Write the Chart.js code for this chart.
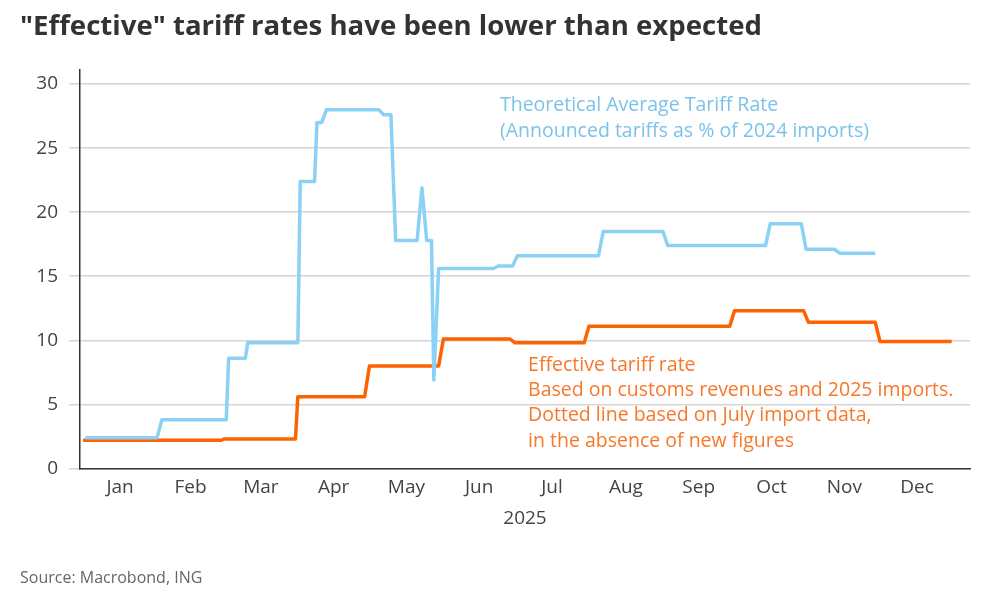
<!DOCTYPE html>
<html>
<head>
<meta charset="utf-8">
<script src="https://cdn.jsdelivr.net/npm/chart.js@4.4.1/dist/chart.umd.min.js"></script>
<style>
  html, body { margin: 0; padding: 0; background: #fff; }
  body { width: 1006px; height: 598px; position: relative; overflow: hidden; font-family: "Open Sans", "Noto Sans", sans-serif; }
  #title { position: absolute; left: 20px; top: 5px; font-size: 27.6px; font-weight: 700; color: #333; white-space: nowrap; }
  #source { position: absolute; left: 20px; top: 566px; font-size: 16px; color: #666; }
  #wrap { position: absolute; left: 0; top: 0; width: 1006px; height: 598px; }
</style>
</head>
<body>
<div id="wrap"><canvas id="tariffChart" width="1006" height="598"></canvas></div>
<div id="title">"Effective" tariff rates have been lower than expected</div>
<div id="source">Source: Macrobond, ING</div>
<script>
// theoretical average tariff rate (announced tariffs as % of 2024 imports)
var theoDates = ['2025-01-02', '2025-02-01', '2025-02-03', '2025-03-02', '2025-03-03', '2025-03-10', '2025-03-11',
  '2025-04-01', '2025-04-02', '2025-04-08', '2025-04-09', '2025-04-11', '2025-04-13', '2025-05-05', '2025-05-07',
  '2025-05-10', '2025-05-12', '2025-05-21', '2025-05-23', '2025-05-25', '2025-05-27', '2025-05-28', '2025-05-30',
  '2025-06-22', '2025-06-24', '2025-06-30', '2025-07-02', '2025-08-05', '2025-08-07', '2025-09-01', '2025-09-03',
  '2025-10-14', '2025-10-16', '2025-10-29', '2025-10-31', '2025-11-12', '2025-11-14', '2025-11-29'];
var theoValues = [2.4, 2.4, 3.8, 3.8, 8.6, 8.6, 9.8,
  9.8, 22.4, 22.4, 27.0, 27.0, 28.0, 28.0, 27.6,
  27.6, 17.8, 17.8, 21.9, 17.8, 17.8, 6.9, 15.6,
  15.6, 15.8, 15.8, 16.6, 16.6, 18.5, 18.5, 17.4,
  17.4, 19.1, 19.1, 17.1, 17.1, 16.8, 16.8];

// effective tariff rate (customs revenues / 2025 imports)
var effDates = ['2025-01-01', '2025-02-28', '2025-03-01', '2025-03-31', '2025-04-01', '2025-04-29', '2025-05-01',
  '2025-05-30', '2025-06-01', '2025-06-29', '2025-07-01', '2025-07-30', '2025-08-01', '2025-09-29', '2025-10-01',
  '2025-10-30', '2025-11-01', '2025-11-29', '2025-12-01', '2025-12-31'];
var effValues = [2.2, 2.2, 2.3, 2.3, 5.6, 5.6, 8.0,
  8.0, 10.1, 10.1, 9.8, 9.8, 11.1, 11.1, 12.3,
  12.3, 11.4, 11.4, 9.9, 9.9];

var monthLabels = ['Jan', 'Feb', 'Mar', 'Apr', 'May', 'Jun', 'Jul', 'Aug', 'Sep', 'Oct', 'Nov', 'Dec'];
var yTicks = [0, 5, 10, 15, 20, 25, 30];

var BLUE = '#8bd1f6';
var ORANGE = '#ff6200';
var FONT = '"Open Sans", "Noto Sans", sans-serif';

function dayOfYear(s) {
  var p = s.split('-');
  return (Date.UTC(+p[0], +p[1] - 1, +p[2]) - Date.UTC(2025, 0, 1)) / 86400000;
}
function toPoints(dates, values) {
  return dates.map(function(d, i) { return { x: dayOfYear(d), y: values[i] }; });
}
// middle of each month, where the month labels sit
var monthMids = monthLabels.map(function(m, i) {
  var start = (Date.UTC(2025, i, 1) - Date.UTC(2025, 0, 1)) / 86400000;
  var end = (Date.UTC(2025, i + 1, 1) - Date.UTC(2025, 0, 1)) / 86400000;
  return (start + end) / 2;
});

var notes = {
  id: 'notes',
  afterDatasetsDraw: function(chart) {
    var c = chart.ctx, x = chart.scales.x, y = chart.scales.y;
    c.save();
    c.font = '19.5px ' + FONT;
    c.textBaseline = 'middle';
    c.textAlign = 'left';
    c.fillStyle = '#7bc2ea';
    var bx = x.getPixelForValue(174.7);
    c.fillText('Theoretical Average Tariff Rate', bx, y.getPixelForValue(28.35));
    c.fillText('(Announced tariffs as % of 2024 imports)', bx, y.getPixelForValue(26.3));
    c.fillStyle = '#f8772a';
    var ox = x.getPixelForValue(186.5);
    var lines = ['Effective tariff rate', 'Based on customs revenues and 2025 imports.',
      'Dotted line based on July import data,', 'in the absence of new figures'];
    var ys = [8.0, 6.1, 4.1, 2.1];
    lines.forEach(function(t, i) { c.fillText(t, ox, y.getPixelForValue(ys[i])); });
    c.restore();
  }
};

var ctx = document.getElementById('tariffChart').getContext('2d');
new Chart(ctx, {
  type: 'line',
  data: {
    datasets: [{
      label: 'Theoretical Average Tariff Rate',
      data: toPoints(theoDates, theoValues),
      borderColor: BLUE,
      borderWidth: 3.5,
      pointRadius: 0,
      tension: 0,
      borderJoinStyle: 'round'
    }, {
      label: 'Effective tariff rate',
      data: toPoints(effDates, effValues),
      borderColor: ORANGE,
      borderWidth: 3.5,
      pointRadius: 0,
      tension: 0,
      borderJoinStyle: 'round'
    }]
  },
  options: {
    responsive: false,
    animation: false,
    layout: { padding: { top: 70, right: 36, bottom: 68, left: 1 } },
    plugins: {
      legend: { display: false },
      tooltip: { enabled: false }
    },
    scales: {
      x: {
        type: 'linear',
        min: -1.3,
        max: 371.7,
        afterBuildTicks: function(scale) {
          scale.ticks = monthMids.map(function(v) { return { value: v }; });
        },
        ticks: {
          autoSkip: false,
          maxRotation: 0,
          padding: 8,
          color: '#444',
          font: { family: FONT, size: 19 },
          callback: function(v, i) { return monthLabels[i]; }
        },
        grid: { display: false, drawTicks: false },
        border: { display: true, color: '#333', width: 1.5 },
        title: {
          display: true,
          text: '2025',
          color: '#444',
          padding: { top: 0, bottom: 0 },
          font: { family: FONT, size: 19 }
        }
      },
      y: {
        min: 0,
        max: 31.1,
        afterBuildTicks: function(scale) {
          scale.ticks = yTicks.map(function(v) { return { value: v }; });
        },
        afterFit: function(scale) { scale.width = 79; },
        ticks: {
          padding: 11,
          color: '#444',
          font: { family: FONT, size: 19 }
        },
        grid: { color: '#d4d4d4', lineWidth: 1.5, tickLength: 11 },
        border: { display: true, color: '#333', width: 1.5 }
      }
    }
  },
  plugins: [notes]
});
</script>
</body>
</html>
